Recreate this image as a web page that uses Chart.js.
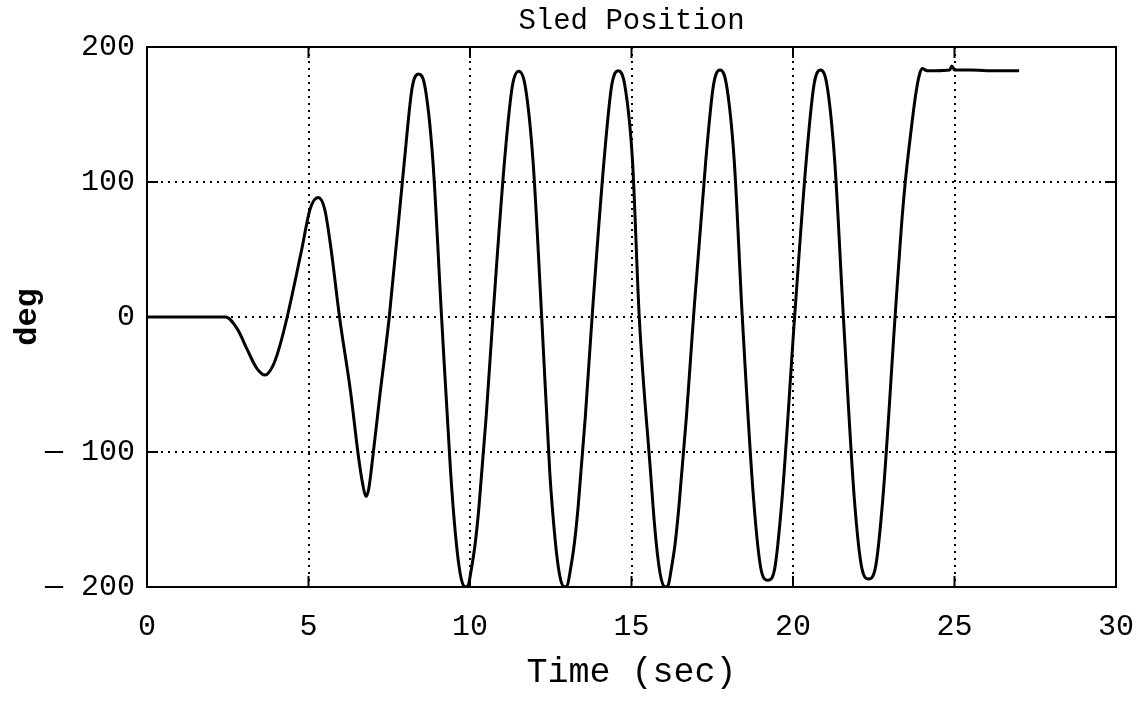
<!DOCTYPE html>
<html>
<head>
<meta charset="utf-8">
<title>Sled Position</title>
<script src="https://cdn.jsdelivr.net/npm/chart.js@4"></script>
<style>
  html, body { margin: 0; padding: 0; background: #fff; }
  canvas { display: block; }
</style>
</head>
<body>
<canvas id="sledChart" width="1140" height="711"></canvas>
<script>
// Sled position log: time (sec) and angle (deg)
const timeSec = [
  0, 1, 2, 2.43, 2.8, 3.1, 3.4, 3.66, 3.9, 4.08, 4.34, 4.79, 5.05, 5.3, 5.5, 5.7, 5.96,
  6.3, 6.55, 6.68, 6.78, 6.86, 6.96, 7.2, 7.5, 7.97, 8.21, 8.41, 8.61, 8.85, 9.12,
  9.4, 9.52, 9.64, 9.74, 9.84, 9.94, 10.04, 10.16, 10.28, 10.5, 10.71,
  11.07, 11.31, 11.51, 11.71, 11.95, 12.22,
  12.47, 12.59, 12.71, 12.81, 12.91, 13.01, 13.11, 13.23, 13.35, 13.57, 13.78,
  14.15, 14.39, 14.59, 14.79, 15.03, 15.24,
  15.59, 15.71, 15.83, 15.93, 16.03, 16.13, 16.23, 16.35, 16.47, 16.7, 16.92,
  17.3, 17.54, 17.74, 17.94, 18.18, 18.43,
  18.78, 19.02, 19.22, 19.42, 19.66, 20.05, 20.41, 20.65, 20.85, 21.05, 21.29, 21.56,
  21.9, 22.14, 22.34, 22.54, 22.78, 23.16, 23.35, 23.48, 23.64, 23.8, 23.92, 24.0,
  24.15, 24.4, 24.85, 24.92, 25.0, 25.5, 26.0, 27.0
];
const positionDeg = [
  0, 0, 0, 0, -9, -24, -38, -43, -36, -24, 0, 50, 80, 88.5, 80, 50, 0,
  -55, -104, -124, -133, -128, -110, -60, 0, 116, 170, 180, 170, 116, 0,
  -115, -153, -181, -195, -200, -199, -187, -168, -140, -74, 0,
  116, 171, 182, 171, 116, 0,
  -115, -153, -181, -195, -200, -199, -187, -168, -140, -74, 0,
  116, 172, 182.5, 172, 116, 0,
  -115, -153, -181, -195, -200, -199, -187, -168, -140, -74, 0,
  116, 172, 183, 172, 116, 0,
  -135, -188, -195, -188, -135, 0, 116, 172, 183, 172, 116, 0,
  -135, -187, -194, -187, -135, 0, 65, 101, 135, 165, 180, 184,
  182.5, 182.5, 183, 186, 183, 183, 182.5, 182.5
];
const xTicks = [0, 5, 10, 15, 20, 25, 30];
const yTicks = [-200, -100, 0, 100, 200];
const chartTitle = 'Sled Position';

const FONT = "'Liberation Mono', 'DejaVu Sans Mono', monospace";

const points = timeSec.map((t, i) => ({ x: t, y: positionDeg[i] }));

// title centred over the plot, solid frame, short inward ticks on all four sides
const frameAndTicks = {
  id: 'frameAndTicks',
  afterDraw(chart) {
    const { ctx, chartArea: a, scales } = chart;
    const len = 11;
    ctx.save();
    ctx.fillStyle = '#000';
    ctx.font = '29px ' + FONT;
    ctx.textAlign = 'center';
    ctx.textBaseline = 'middle';
    ctx.fillText(chartTitle, (a.left + a.right) / 2, 21);

    ctx.strokeStyle = '#000';
    ctx.lineWidth = 2;
    ctx.setLineDash([]);
    ctx.strokeRect(a.left, a.top, a.right - a.left, a.bottom - a.top);
    ctx.beginPath();
    for (const v of xTicks) {
      const px = scales.x.getPixelForValue(v);
      ctx.moveTo(px, a.bottom); ctx.lineTo(px, a.bottom - len);
      ctx.moveTo(px, a.top); ctx.lineTo(px, a.top + len);
    }
    for (const v of yTicks) {
      const py = scales.y.getPixelForValue(v);
      ctx.moveTo(a.left, py); ctx.lineTo(a.left + len, py);
      ctx.moveTo(a.right, py); ctx.lineTo(a.right - len, py);
    }
    ctx.stroke();
    ctx.restore();
  }
};

new Chart(document.getElementById('sledChart'), {
  type: 'line',
  data: {
    datasets: [{
      data: points,
      borderColor: '#000',
      borderWidth: 3,
      pointRadius: 0,
      fill: false,
      cubicInterpolationMode: 'monotone'
    }]
  },
  options: {
    responsive: false,
    animation: false,
    devicePixelRatio: 1,
    layout: { padding: { left: 0, right: 24, top: 47, bottom: 0 } },
    plugins: {
      legend: { display: false },
      tooltip: { enabled: false },
      title: { display: false }
    },
    scales: {
      x: {
        type: 'linear',
        min: 0,
        max: 30,
        afterFit: (scale) => {
          scale.height = 124;
          scale.paddingLeft = 0;
          scale.paddingRight = 0;
        },
        afterBuildTicks: (scale) => { scale.ticks = xTicks.map(v => ({ value: v })); },
        ticks: {
          color: '#000',
          padding: 22,
          maxRotation: 0,
          font: { family: FONT, size: 30 }
        },
        grid: { color: '#000', lineWidth: 2, drawTicks: false },
        border: { display: false, dash: [2, 5] },
        title: {
          display: true,
          text: 'Time (sec)',
          color: '#000',
          font: { family: FONT, size: 35 },
          padding: { top: 0, bottom: 17 }
        }
      },
      y: {
        type: 'linear',
        min: -200,
        max: 200,
        afterFit: (scale) => {
          scale.width = 147;
          scale.paddingTop = 0;
          scale.paddingBottom = 0;
        },
        afterBuildTicks: (scale) => { scale.ticks = yTicks.map(v => ({ value: v })); },
        ticks: {
          color: '#000',
          padding: 12,
          font: { family: FONT, size: 30 },
          // long, wide-set minus as on the old plotter output
          callback: (v) => (v < 0 ? '\u2014 ' + Math.abs(v) : String(v))
        },
        grid: { color: '#000', lineWidth: 2, drawTicks: false },
        border: { display: false, dash: [2, 5] },
        title: {
          display: true,
          text: 'deg',
          color: '#000',
          font: { family: FONT, size: 32, weight: 'bold' },
          padding: { top: 9, bottom: 0 }
        }
      }
    }
  },
  plugins: [frameAndTicks]
});
</script>
</body>
</html>
